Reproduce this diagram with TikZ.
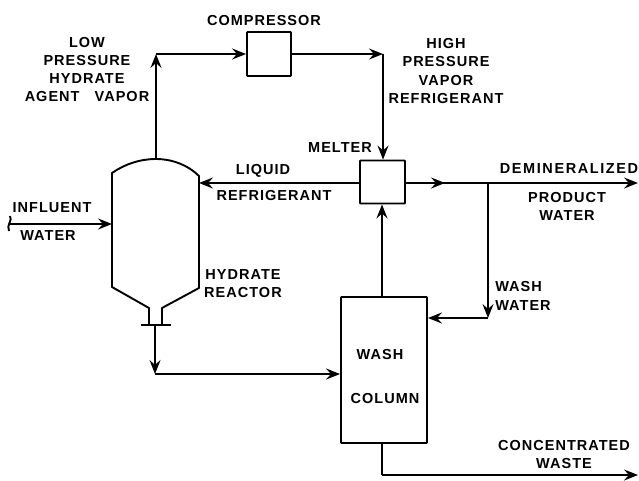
\documentclass[tikz,border=0pt]{standalone}
\usepackage{fontspec}
\setmainfont{Liberation Sans}
\usepackage{tikz}
\usetikzlibrary{positioning,arrows.meta}

\begin{document}
\begin{tikzpicture}[x=1pt,y=-1pt,
          box/.style={rectangle, draw=black, line width=1.9pt, rounded corners=0.8pt, inner sep=0pt},
          lbl/.style={font=\fontsize{14.5}{18.3}\selectfont\bfseries\addfontfeature{LetterSpace=7}, align=center, inner sep=0pt},
          lblwide/.style={lbl, font=\fontsize{14.5}{18.3}\selectfont\bfseries\addfontfeature{LetterSpace=11}},
          arr/.style={-{Stealth[length=14pt,width=11pt,inset=5pt]}, line width=1.9pt},
          pipe/.style={line width=1.9pt}
        ]
        \useasboundingbox (0,0) rectangle (639,480);
        % vessel
        \draw[pipe, line join=round] (149,325) -- (149,308) -- (112,287) -- (112,173)
          .. controls (125,164) and (140,159) .. (156,159)
          .. controls (172,159) and (188,165) .. (199,176) -- (199,288) -- (162,308) -- (162,325);
        \coordinate (top) at (156,159);
        \coordinate (bot) at (155,325);
        \coordinate (flL) at (141,325);
        \coordinate (flR) at (171,325);
        \node[box, minimum width=44pt, minimum height=44pt] (comp) at (269,54) {};
        \node[box, minimum width=45pt, minimum height=43pt] (melt) at (382.5,182) {};
        \node[box, minimum width=86pt, minimum height=146pt] (wash) at (384,370) {};
        \draw[pipe] (flL) -- (flR);
        % connectors
        \coordinate (c1) at (156,54);
        \coordinate (c2) at (383,54);
        \coordinate (vin) at (112,224);
        \coordinate (start) at (9,224);
        \coordinate (vliq) at (199,183);
        \coordinate (j1) at (155,374);
        \coordinate (m1) at (445,183);
        \coordinate (m0) at (436,183);
        \coordinate (out1) at (638,183);
        \coordinate (j2) at (488,183);
        \coordinate (j3) at (488,318);
        \coordinate (w1) at (382,475);
        \coordinate (w0) at (382,443);
        \coordinate (out2) at (638,475);
        \draw[arr] (top) -- (c1);
        \draw[arr] (c1) -- (comp.west);
        \draw[arr] (comp.east) -- (c2);
        \draw[arr] (c2) -- (melt.north -| c2);
        \draw[arr] (melt.west |- m1) -- (vliq);
        \draw[arr] (melt.east |- m1) -- (m1);
        \draw[arr] (m0) -- (out1);
        \draw[arr] (j2) -- (j3);
        \draw[arr] (j3) -- (wash.east |- j3);
        \draw[arr] (wash.north -| w0) -- (melt.south -| w0);
        \draw[arr] (start) -- (vin);
        \draw[pipe] (10,216) .. controls (13,220) and (6,225) .. (9,231);
        \draw[arr] (bot) -- (j1);
        \draw[arr] (j1) -- (wash.west |- j1);
        \draw[pipe] (w0) -- (w1);
        \draw[arr] (w1) -- (out2);
        % labels
        \node[lbl] (tcomp) at (264,21) {COMPRESSOR};
        \node[lbl] (tlow) at (87,69.5) {LOW\\PRESSURE\\HYDRATE\\AGENT\ \ \ VAPOR};
        \node[lbl] (thigh) at (446,71) {HIGH\\PRESSURE\\VAPOR\\REFRIGERANT};
        \node[lbl] (tmelt) at (340,148) {MELTER};
        \node[lbl] (tliq) at (263,171) {LIQUID};
        \node[lbl] (tref) at (274,196) {REFRIGERANT};
        \node[lblwide] (tdem) at (569,169) {DEMINERALIZED};
        \node[lbl] (tprod) at (567,206.5) {PRODUCT\\WATER};
        \node[lbl] (tinf) at (52,208) {INFLUENT};
        \node[lbl] (twat) at (48,236) {WATER};
        \node[lbl] (thyd) at (243,283.5) {HYDRATE\\REACTOR};
        \node[lbl, align=left] (twash) at (523,296) {WASH\\WATER};
        \node[lbl] (tw1) at (380,354) {WASH};
        \node[lbl] (tw2) at (385,398) {COLUMN};
        \node[lbl] (tcon) at (564,454.5) {CONCENTRATED\\WASTE};
      \end{tikzpicture}
\end{document}
